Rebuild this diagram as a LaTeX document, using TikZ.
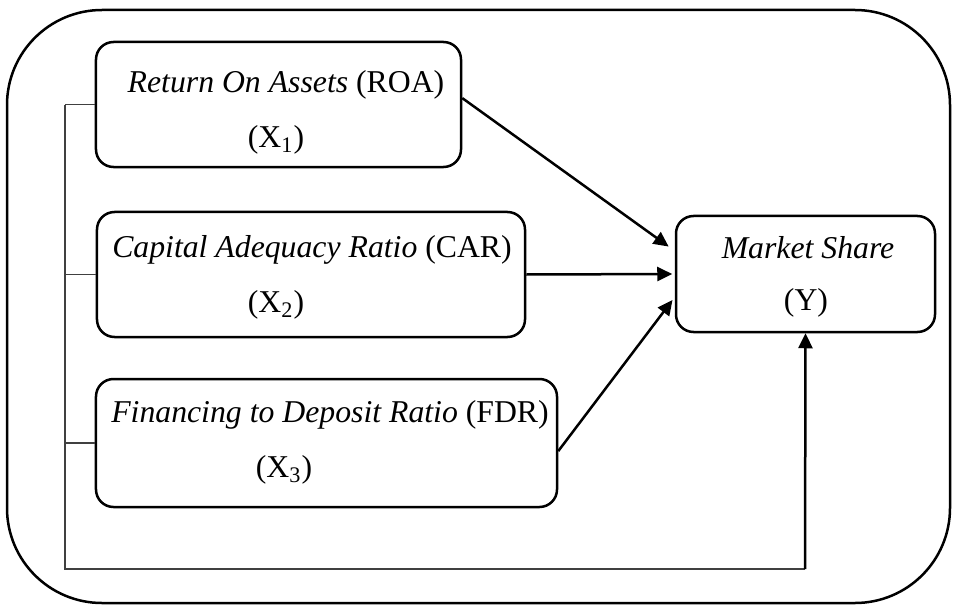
\documentclass[tikz,border=0pt]{standalone}
\usepackage{fontspec}
\setmainfont{Liberation Serif}
\usetikzlibrary{arrows.meta}

\tikzset{
  varbox/.style={draw, line width=1pt, rounded corners=7pt, inner sep=0pt},
  lbl/.style={font=\fontsize{12.7}{15}\selectfont, inner sep=0pt},
  link/.style={line width=1pt, -{Triangle[length=6pt,width=5.6pt]}},
  bracket/.style={line width=0.5pt, black!75}
}

\begin{document}
\begin{tikzpicture}[x=0.4pt, y=-0.4pt]
    \useasboundingbox (0,0) rectangle (959,606);
    % frame
    \draw[line width=1pt, rounded corners=38pt] (7,10) rectangle (950,603);

    % variable boxes
    \node[varbox, minimum width=146pt, minimum height=50pt] (roa) at (278.5,104.5) {};
    \node[varbox, minimum width=171.2pt, minimum height=50pt] (car) at (311,274.5) {};
    \node[varbox, minimum width=184.4pt, minimum height=51.2pt] (fdr) at (326.5,443) {};
    \node[varbox, minimum width=103.6pt, minimum height=46.4pt] (ms) at (805.5,274) {};

    \node[lbl] (roaname) at (286,85) {\textit{Return On Assets} (ROA)};
    \node[lbl] (roavar) at (276,140) {(X\textsubscript{1})};
    \node[lbl] (carname) at (312,250) {\textit{Capital Adequacy Ratio} (CAR)};
    \node[lbl] (carvar) at (276,305) {(X\textsubscript{2})};
    \node[lbl] (fdrname) at (330,415) {\textit{Financing to Deposit Ratio} (FDR)};
    \node[lbl] (fdrvar) at (284,470) {(X\textsubscript{3})};
    \node[lbl] (msname) at (808,248) {\textit{Market Share}};
    \node[lbl] (msvar) at (806,303) {(Y)};

    % partial effects
    \draw[link, shorten >=3pt] (roa.2) -- (ms.170);
    \draw[link, shorten >=1pt] (car.east) -- (ms.west);
    \draw[link, shorten >=1.5pt] (fdr.-2) -- (ms.190);

    % joint effect
    \coordinate (brk) at (65,105);
    \coordinate (brkend) at (65,569);
    \coordinate (turn) at (805,569);
    \draw[bracket] (brk) -- (brkend) -- (turn);
    \draw[bracket] (roa.west) -- (roa.west -| brk);
    \draw[bracket] (car.west) -- (car.west -| brk);
    \draw[bracket] (fdr.west) -- (fdr.west -| brk);
    \draw[link] (turn) -- (ms.south);
\end{tikzpicture}
\end{document}
